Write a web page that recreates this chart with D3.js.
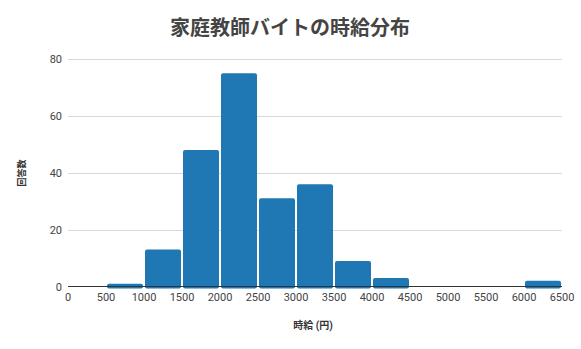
<!DOCTYPE html>
<html lang="ja">
	<head>
		<meta charset="utf-8">
		<title>家庭教師バイトの時給分布</title>
		<script type="text/javascript" src="https://cdn.jsdelivr.net/npm/d3@7"></script>
		<style type="text/css">
			body { margin: 0; background: #fff; }
			text { font-family: Roboto, "Noto Sans CJK JP", sans-serif; }
		</style>
	</head>
	<body>
		<script type="text/javascript">
			var w = 581;
			var h = 349;
			// bin lower edges (yen) and counts
			var binStarts = [0, 500, 1000, 1500, 2000, 2500, 3000, 3500, 4000, 4500, 5000, 5500, 6000];
			var counts = [0, 1, 13, 48, 75, 31, 36, 9, 3, 0, 0, 0, 2];
			var binWidth = 500;
			var xTicks = [0, 500, 1000, 1500, 2000, 2500, 3000, 3500, 4000, 4500, 5000, 5500, 6000, 6500];
			var yTicks = [0, 20, 40, 60, 80];

			var bins = binStarts.map(function(s, i) {
				return { start: s, count: counts[i] };
			}).filter(function(d) { return d.count > 0; });

			var xScale = d3.scaleLinear().domain([0, 6500]).range([68, 562]);
			var yScale = d3.scaleLinear().domain([0, 80]).range([286.5, 59]);

			var svg = d3.select("body")
				.append("svg")
				.attr("width", w)
				.attr("height", h);

			//title
			svg.append("text")
				.attr("x", 290)
				.attr("y", 35)
				.attr("text-anchor", "middle")
				.attr("font-size", "20px")
				.attr("font-weight", "bold")
				.attr("fill", "#444")
				.style("font-family", "'Noto Sans CJK JP', sans-serif")
				.text("家庭教師バイトの時給分布");

			//gridlines
			svg.selectAll("line.grid")
				.data(yTicks.slice(1))
				.enter()
				.append("line")
				.attr("class", "grid")
				.attr("x1", xScale(0))
				.attr("x2", xScale(6500))
				.attr("y1", function(d) { return Math.round(yScale(d)) + 0.5; })
				.attr("y2", function(d) { return Math.round(yScale(d)) + 0.5; })
				.attr("stroke", "#d9d9d9")
				.attr("stroke-width", 1);

			//y tick labels
			svg.selectAll("text.ytick")
				.data(yTicks)
				.enter()
				.append("text")
				.attr("class", "ytick")
				.attr("x", 62)
				.attr("y", function(d) { return yScale(d) + 4; })
				.attr("text-anchor", "end")
				.attr("font-size", "11px")
				.attr("fill", "#444")
				.text(function(d) { return d; });

			//bars
			svg.selectAll("rect.bar")
				.data(bins)
				.enter()
				.append("rect")
				.attr("class", "bar")
				.attr("x", function(d) { return xScale(d.start) + 1; })
				.attr("y", function(d) { return yScale(d.count); })
				.attr("width", function(d) { return xScale(d.start + binWidth) - xScale(d.start) - 2; })
				.attr("height", function(d) { return yScale(0) - yScale(d.count) + 2; })
				.attr("rx", 2)
				.attr("fill", "#1f77b4");

			//baseline
			svg.append("line")
				.attr("x1", xScale(0))
				.attr("x2", xScale(6500))
				.attr("y1", 286.5)
				.attr("y2", 286.5)
				.attr("stroke", "#333")
				.attr("stroke-width", 1);

			//x tick labels
			svg.selectAll("text.xtick")
				.data(xTicks)
				.enter()
				.append("text")
				.attr("class", "xtick")
				.attr("x", function(d) { return xScale(d); })
				.attr("y", 301)
				.attr("text-anchor", "middle")
				.attr("font-size", "11px")
				.attr("fill", "#444")
				.text(function(d) { return d; });

			//axis titles
			svg.append("text")
				.attr("x", 313)
				.attr("y", 329)
				.attr("text-anchor", "middle")
				.attr("font-size", "10px")
				.attr("font-weight", "bold")
				.attr("fill", "#333")
				.text("時給 (円)");

			svg.append("text")
				.attr("transform", "translate(25,173) rotate(-90)")
				.attr("text-anchor", "middle")
				.attr("font-size", "9px")
				.attr("font-weight", "bold")
				.attr("fill", "#333")
				.text("回答数");
		</script>
	</body>
</html>
